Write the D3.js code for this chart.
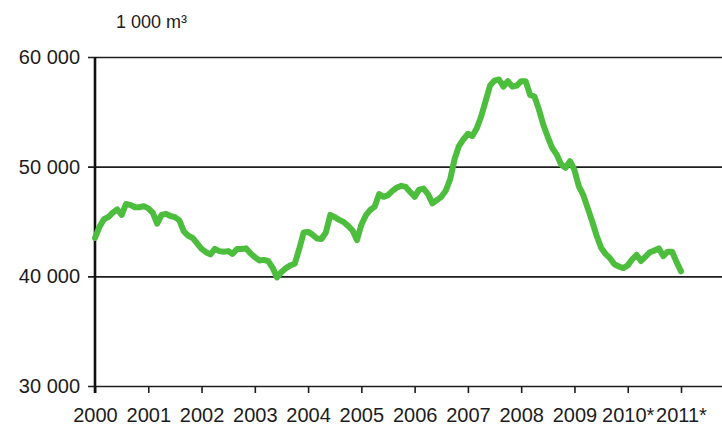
<!DOCTYPE html>
<html>
<head>
<meta charset="utf-8">
<script src="https://cdn.jsdelivr.net/npm/d3@7"></script>
<style>
html, body { margin: 0; padding: 0; background: #fff; }
#d3data { width: 722px; height: 427px; }
text { font-family: "Liberation Sans", Arial, sans-serif; fill: #1c1c1c; }
</style>
</head>
<body>
<div id="d3data"></div>
<script>
var width = 722;
var height = 427;

// monthly values, 1 000 m3
var v2000 = [43500, 44500, 45200, 45400, 45800, 46100, 45600, 46600, 46500, 46300, 46300, 46400];
var v2001 = [46200, 45800, 44800, 45600, 45700, 45500, 45400, 45100, 44100, 43700, 43500, 43000];
var v2002 = [42500, 42200, 42000, 42500, 42300, 42250, 42300, 42050, 42500, 42500, 42550, 42100];
var v2003 = [41750, 41450, 41500, 41400, 40800, 39900, 40400, 40750, 41000, 41150, 42500, 44000];
var v2004 = [44050, 43800, 43450, 43400, 44000, 45600, 45400, 45150, 44950, 44600, 44200, 43300];
var v2005 = [44700, 45550, 46050, 46350, 47500, 47250, 47400, 47800, 48100, 48250, 48150, 47700];
var v2006 = [47250, 47900, 48000, 47500, 46650, 46950, 47250, 47800, 48850, 50700, 51900, 52500];
var v2007 = [53000, 52800, 53500, 54600, 56000, 57400, 57850, 57950, 57300, 57800, 57300, 57400];
var v2008 = [57800, 57800, 56550, 56400, 55200, 53800, 52700, 51700, 51100, 50200, 49900, 50500];
var v2009 = [49700, 48200, 47400, 46200, 45000, 43700, 42600, 42050, 41650, 41100, 40900, 40750];
var v2010 = [41000, 41550, 41950, 41400, 41800, 42200, 42350, 42550, 41850, 42250, 42250, 41300];
var v2011 = [40450];

var yearLabels = ["2000", "2001", "2002", "2003", "2004", "2005", "2006", "2007", "2008", "2009", "2010*", "2011*"];
var yTicks = [30000, 40000, 50000, 60000];

var values = [].concat(v2000, v2001, v2002, v2003, v2004, v2005, v2006, v2007, v2008, v2009, v2010, v2011);

var svg = d3.select("#d3data")
    .append("svg")
    .attr("width", width)
    .attr("height", height);

var xScale = d3.scaleLinear()
    .domain([0, 132])
    .range([95, 681]);

var yScale = d3.scaleLinear()
    .domain([30000, 60000])
    .range([386, 57]);

var fmt = function (d) { return d3.format(",")(d).replace(",", " "); };

// horizontal grid + y labels
var yAxis = d3.axisLeft(yScale)
    .tickValues(yTicks)
    .tickSize(-(width - 95))
    .tickPadding(15)
    .tickFormat(fmt);

var gy = svg.append("g")
    .attr("transform", "translate(95,0)")
    .call(yAxis);
gy.select(".domain").remove();
gy.selectAll(".tick line")
    .attr("x1", -7)
    .attr("stroke", "#1e1e1e")
    .attr("stroke-width", 1.6);
gy.selectAll(".tick text")
    .style("font-size", "20px")
    .attr("fill", "#1c1c1c");

// vertical grid + year labels
var xAxis = d3.axisBottom(xScale)
    .tickValues(yearLabels.map((d, i) => i * 12))
    .tickSize(-(386 - 57))
    .tickPadding(0)
    .tickFormat((d, i) => yearLabels[i]);

var gx = svg.append("g")
    .attr("transform", "translate(0,386)")
    .call(xAxis);
gx.select(".domain").remove();
gx.selectAll(".tick line")
    .attr("y2", 7)
    .attr("stroke", "#1e1e1e")
    .attr("stroke-width", 1.6);
gx.selectAll(".tick text")
    .attr("y", 36)
    .attr("dy", 0)
    .style("font-size", "20px")
    .attr("fill", "#1c1c1c");

// y axis line a bit heavier
svg.append("line")
    .attr("x1", 95).attr("x2", 95)
    .attr("y1", 57).attr("y2", 393)
    .attr("stroke", "#111")
    .attr("stroke-width", 2.6);

svg.append("text")
    .attr("x", 116)
    .attr("y", 28)
    .style("font-size", "18px")
    .text("1 000 m³");

var line = d3.line()
    .x((d, i) => xScale(i))
    .y(d => yScale(d));

svg.append("path")
    .datum(values)
    .attr("d", line)
    .attr("fill", "none")
    .attr("stroke", "#4cbd3d")
    .attr("stroke-width", 6)
    .attr("stroke-linejoin", "round")
    .attr("stroke-linecap", "round");
</script>
</body>
</html>
